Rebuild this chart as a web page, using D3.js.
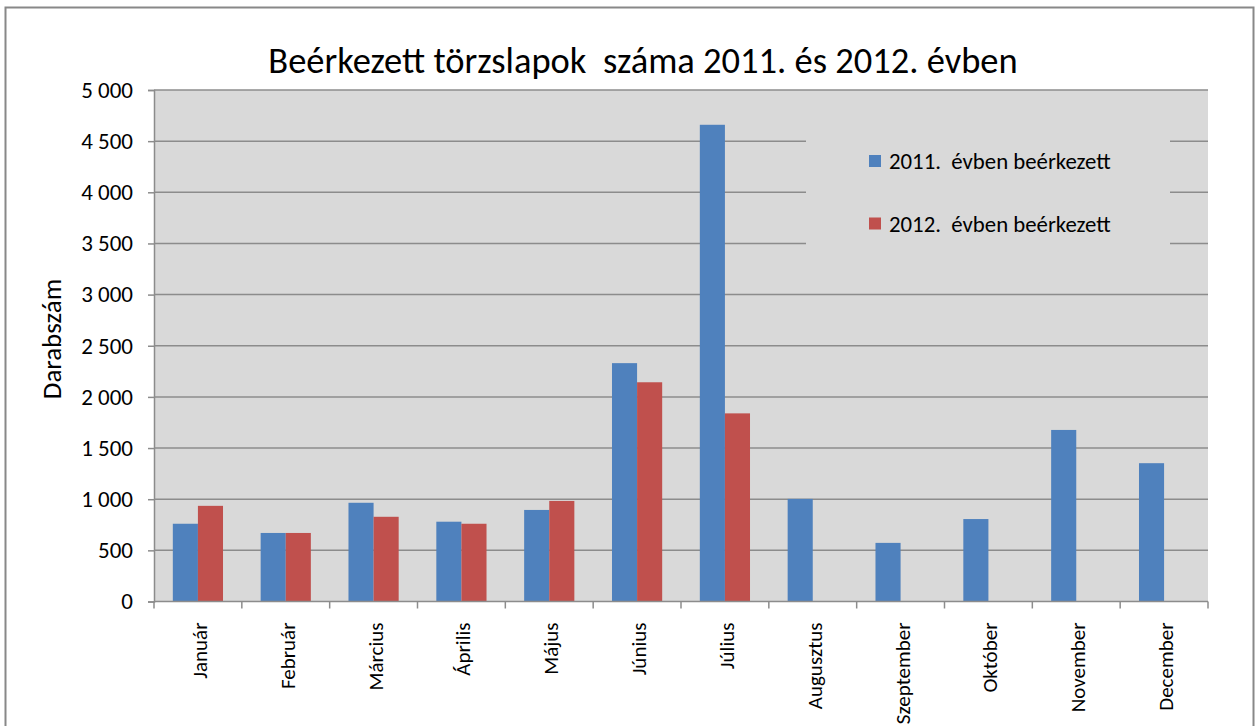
<!DOCTYPE html>
<html lang="hu">
<head>
<meta charset="utf-8">
<script src="https://d3js.org/d3.v7.min.js"></script>
<style>
  body { margin: 0; background: #fff; }
  text { font-family: Carlito, Calibri, Lato, "Open Sans", sans-serif; fill: #000; white-space: pre; }
</style>
<title>Beérkezett törzslapok</title>
</head>
<body>
<div id="chart"></div>
<script>
// data
var months = ["Január", "Február", "Március", "Április", "Május", "Június",
              "Július", "Augusztus", "Szeptember", "Október", "November", "December"];
var series = ["2011.  évben beérkezett", "2012.  évben beérkezett"];
var values2011 = [760, 670, 965, 780, 895, 2330, 4660, 1003, 573, 806, 1677, 1352];
var values2012 = [935, 670, 828, 760, 983, 2143, 1839, null, null, null, null, null];
var yTicks = [0, 500, 1000, 1500, 2000, 2500, 3000, 3500, 4000, 4500, 5000];
var colors = ["#4f81bd", "#c0504d"];

var W = 1258, H = 726;
var margin = {top: 90, right: 50, bottom: 124, left: 154},
    width = 1208 - margin.left,
    height = 601.5 - margin.top;

var svg = d3.select("#chart").append("svg")
    .attr("width", W)
    .attr("height", H);

// outer frame
svg.append("rect")
    .attr("x", 5.5).attr("y", 7.5)
    .attr("width", 1248).attr("height", 740)
    .attr("fill", "#fff")
    .attr("stroke", "#888").attr("stroke-width", 2);

svg.append("text")
    .attr("x", 643).attr("y", 73)
    .attr("text-anchor", "middle")
    .attr("xml:space", "preserve")
    .style("font-size", "36.5px")
    .text("Beérkezett törzslapok  száma 2011. és 2012. évben");

var g = svg.append("g")
    .attr("transform", "translate(" + margin.left + "," + margin.top + ")");

var x = d3.scaleBand()
    .domain(months)
    .range([0, width])
    .paddingInner(0.4286)
    .paddingOuter(0.2143);

var x1 = d3.scaleBand()
    .domain([0, 1])
    .range([0, x.bandwidth()]);

var y = d3.scaleLinear()
    .domain([0, 5000])
    .range([height, 0]);

g.append("rect")
    .attr("width", width).attr("height", height)
    .attr("fill", "#d9d9d9");

// gridlines
g.append("g")
    .selectAll("line")
    .data(yTicks.filter(function(d) { return d > 0; }))
    .join("line")
    .attr("x1", 0).attr("x2", width)
    .attr("y1", function(d) { return y(d); })
    .attr("y2", function(d) { return y(d); })
    .attr("stroke", "#8c8c8c")
    .attr("stroke-width", 1.5);

// bars
var rows = months.map(function(m, i) { return {m: m, v: [values2011[i], values2012[i]]}; });
g.append("g")
    .selectAll("g")
    .data(rows)
    .join("g")
    .attr("transform", function(d) { return "translate(" + x(d.m) + ",0)"; })
    .selectAll("rect")
    .data(function(d) { return d.v.map(function(v, s) { return {s: s, v: v}; })
                               .filter(function(e) { return e.v != null; }); })
    .join("rect")
    .attr("x", function(d) { return x1(d.s); })
    .attr("width", x1.bandwidth())
    .attr("y", function(d) { return y(d.v); })
    .attr("height", function(d) { return height - y(d.v); })
    .attr("fill", function(d) { return colors[d.s]; });

// y axis
var yAxis = g.append("g")
    .call(d3.axisLeft(y).tickValues(yTicks).tickSize(6).tickPadding(15)
        .tickFormat(function(d) { return d3.format(",")(d).replace(",", " "); }));
yAxis.select(".domain").attr("stroke", "#8c8c8c").attr("stroke-width", 1.5);
yAxis.selectAll(".tick line").attr("stroke", "#8c8c8c").attr("stroke-width", 1.5);
yAxis.selectAll(".tick text")
    .style("font-size", "23px")
    .style("font-family", "Carlito, Calibri, Lato, 'Open Sans', sans-serif")
    .attr("fill", "#000");

// x axis: baseline + ticks at category edges
g.append("line")
    .attr("x1", 0).attr("x2", width)
    .attr("y1", height).attr("y2", height)
    .attr("stroke", "#8c8c8c").attr("stroke-width", 1.5);
var step = x.step();
g.append("g")
    .selectAll("line")
    .data(d3.range(months.length + 1))
    .join("line")
    .attr("x1", function(i) { return i * step; })
    .attr("x2", function(i) { return i * step; })
    .attr("y1", height).attr("y2", height + 7)
    .attr("stroke", "#8c8c8c").attr("stroke-width", 1.5);

g.append("g")
    .selectAll("text")
    .data(months)
    .join("text")
    .attr("transform", function(d) {
        return "translate(" + (x(d) + x.bandwidth() / 2 + 9) + "," + (height + 21) + ") rotate(-90)";
    })
    .attr("text-anchor", "end")
    .style("font-size", "21px")
    .text(function(d) { return d; });

// y title
svg.append("text")
    .attr("transform", "translate(61,339) rotate(-90)")
    .attr("text-anchor", "middle")
    .style("font-size", "27px")
    .text("Darabszám");

// legend
var legend = svg.append("g");
legend.append("rect")
    .attr("x", 806).attr("y", 118)
    .attr("width", 364).attr("height", 148)
    .attr("fill", "#d9d9d9");
legend.selectAll("rect.sw")
    .data(series)
    .join("rect")
    .attr("class", "sw")
    .attr("x", 869)
    .attr("y", function(d, i) { return 155 + i * 62.5; })
    .attr("width", 12).attr("height", 12)
    .attr("fill", function(d, i) { return colors[i]; });
legend.selectAll("text")
    .data(series)
    .join("text")
    .attr("x", 889)
    .attr("y", function(d, i) { return 169 + i * 62.5; })
    .attr("xml:space", "preserve")
    .style("font-size", "22.8px")
    .text(function(d) { return d; });
</script>
</body>
</html>
